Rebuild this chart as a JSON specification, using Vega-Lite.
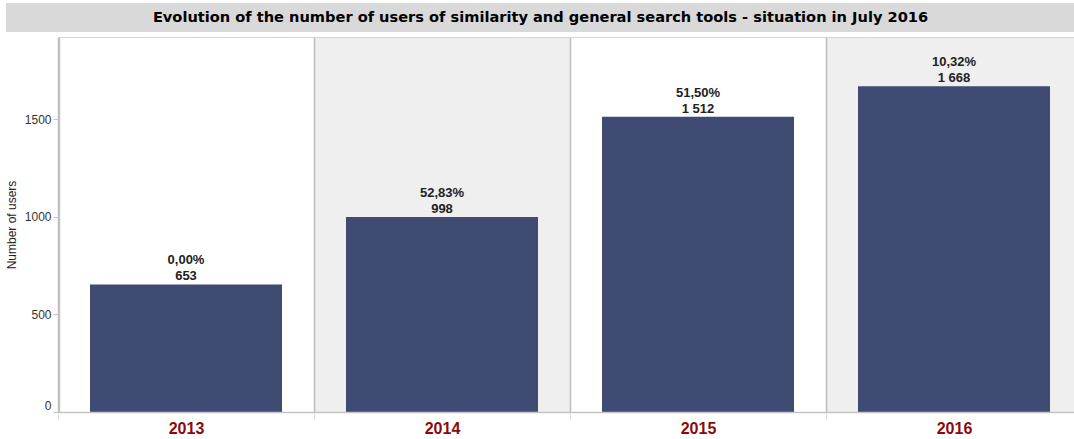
{
  "$schema": "https://vega.github.io/schema/vega-lite/v6.json",
  "padding": {"left": 5, "top": 3, "right": 0, "bottom": 0},
  "background": "white",
  "spacing": 5,
  "config": {
    "font": "Liberation Sans",
    "locale": {"number": {"decimal": ",", "thousands": " ", "grouping": [3], "currency": ["", " €"]}}
  },
  "vconcat": [
    {
      "width": 1069,
      "height": 29,
      "view": {"fill": "#d9d9d9", "stroke": null},
      "data": {"values": [{"title": "Evolution of the number of users of similarity and general search tools - situation in July 2016"}]},
      "mark": {"type": "text", "font": "DejaVu Sans", "fontWeight": "bold", "fontSize": 14.6, "color": "#000000"},
      "encoding": {"text": {"field": "title"}}
    },
    {
      "width": 1069,
      "height": 375,
      "view": {"stroke": null, "fill": "white"},
      "data": {"values": [
        {"year": 2013, "users": 653, "growth": "0,00%"},
        {"year": 2014, "users": 998, "growth": "52,83%"},
        {"year": 2015, "users": 1512, "growth": "51,50%"},
        {"year": 2016, "users": 1668, "growth": "10,32%"}
      ]},
      "resolve": {"axis": {"x": "independent"}},
      "layer": [
        {
          "transform": [{"filter": "datum.year == 2014 || datum.year == 2016"}],
          "mark": {"type": "rect", "fill": "#efefef"},
          "encoding": {
            "x": {
              "field": "year", "type": "ordinal", "sort": "ascending",
              "scale": {"paddingInner": 0, "paddingOuter": 0, "range": [52, 1076]},
              "axis": {
                "orient": "top", "title": null, "labels": false, "ticks": false, "grid": false,
                "domainColor": "#d4d4d4", "domainWidth": 1
              }
            }
          }
        },
        {
          "mark": {"type": "bar", "fill": "#3f4b73", "width": {"band": 0.75}},
          "encoding": {
            "x": {
              "field": "year", "type": "ordinal", "sort": "ascending",
              "axis": {
                "orient": "bottom", "title": null, "labelAngle": 0, "tickBand": "extent", "zindex": 1,
                "grid": true, "gridColor": "#bdbdbd", "gridWidth": 1.5,
                "domainColor": "#c4c4c4", "domainWidth": 1.5,
                "tickColor": "#e2e2e2", "tickSize": 7,
                "labelFont": "Liberation Sans", "labelFontSize": 16, "labelFontWeight": "bold",
                "labelColor": "#8b0b0b", "labelPadding": 1
              }
            },
            "y": {
              "field": "users", "type": "quantitative",
              "scale": {"domain": [0, 1920], "nice": false},
              "axis": {
                "offset": -53, "zindex": 2,
                "title": "Number of users", "titleFont": "Liberation Sans", "titleFontSize": 12,
                "titleFontWeight": "normal", "titleColor": "#222222", "titlePadding": 6,
                "values": [0, 500, 1000, 1500], "format": "d", "grid": false, "labelFlush": true,
                "labelFontSize": 12, "labelColor": "#333333", "labelPadding": 2,
                "tickSize": 6, "tickColor": "#c4c4c4", "domainColor": "#c4c4c4", "domainWidth": 1.5
              }
            }
          }
        },
        {
          "mark": {"type": "text", "dy": -20, "baseline": "alphabetic", "fontSize": 13, "fontWeight": "bold", "color": "#222222"},
          "encoding": {
            "x": {"field": "year", "type": "ordinal", "sort": "ascending", "axis": null},
            "y": {"field": "users", "type": "quantitative"},
            "text": {"field": "growth"}
          }
        },
        {
          "mark": {"type": "text", "dy": -4, "baseline": "alphabetic", "fontSize": 13, "fontWeight": "bold", "color": "#222222"},
          "encoding": {
            "x": {"field": "year", "type": "ordinal", "sort": "ascending", "axis": null},
            "y": {"field": "users", "type": "quantitative"},
            "text": {"field": "users", "format": ",d"}
          }
        }
      ]
    }
  ]
}
